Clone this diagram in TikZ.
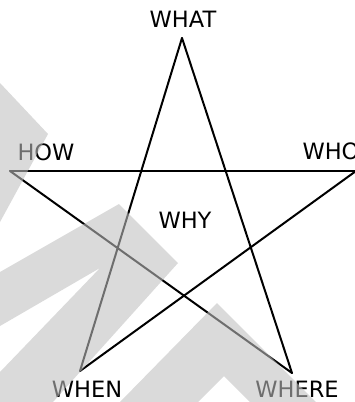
\documentclass[tikz,border=0pt]{standalone}
\usepackage{fontspec}
\setmainfont{DejaVu Sans}
\definecolor{wmgray}{gray}{0.75}
\begin{document}
\begin{tikzpicture}[x=1pt,y=-1pt,
  lbl/.style={font=\fontsize{22.5}{26}\selectfont, inner sep=0pt, anchor=base},
  edge/.style={line width=2pt, black, line cap=round},
  wm/.style={fill=wmgray, fill opacity=0.58, draw=none}]
\useasboundingbox (0,0) rectangle (355,402);
\clip (0,0) rectangle (355,402);
% star vertices
\coordinate (top) at (182,38);
\coordinate (lft) at (10,171);
\coordinate (rgt) at (356,171);
\coordinate (bl) at (80,371);
\coordinate (br) at (292,373);
% labels
\node[lbl] (what) at (183,27) {WHAT};
\node[lbl] (how) at (46,160) {HOW};
\node[lbl] (who) at (331,159) {WHO};
\node[lbl] (why) at (185,228) {WHY};
\node[lbl] (when) at (87,397.5) {WHEN};
\node[lbl] (where) at (297,397.5) {WHERE};
% star
\draw[edge] (top) -- (bl);
\draw[edge] (top) -- (br);
\draw[edge] (lft) -- (rgt);
\draw[edge] (lft) -- (br);
\draw[edge] (rgt) -- (bl);
% watermark overlay
\fill[wm] (0,83) -- (48,134) -- (0,222) -- cycle;
\fill[wm] (0,272) -- (119,204) -- (178,263) -- (53,402) -- (0,402) -- (0,372) -- (100,268) -- (0,326) -- cycle;
\fill[wm] (120,402) -- (217,303) -- (316,402) -- (250,402) -- (224,376) -- (198,402) -- cycle;
\end{tikzpicture}
\end{document}
